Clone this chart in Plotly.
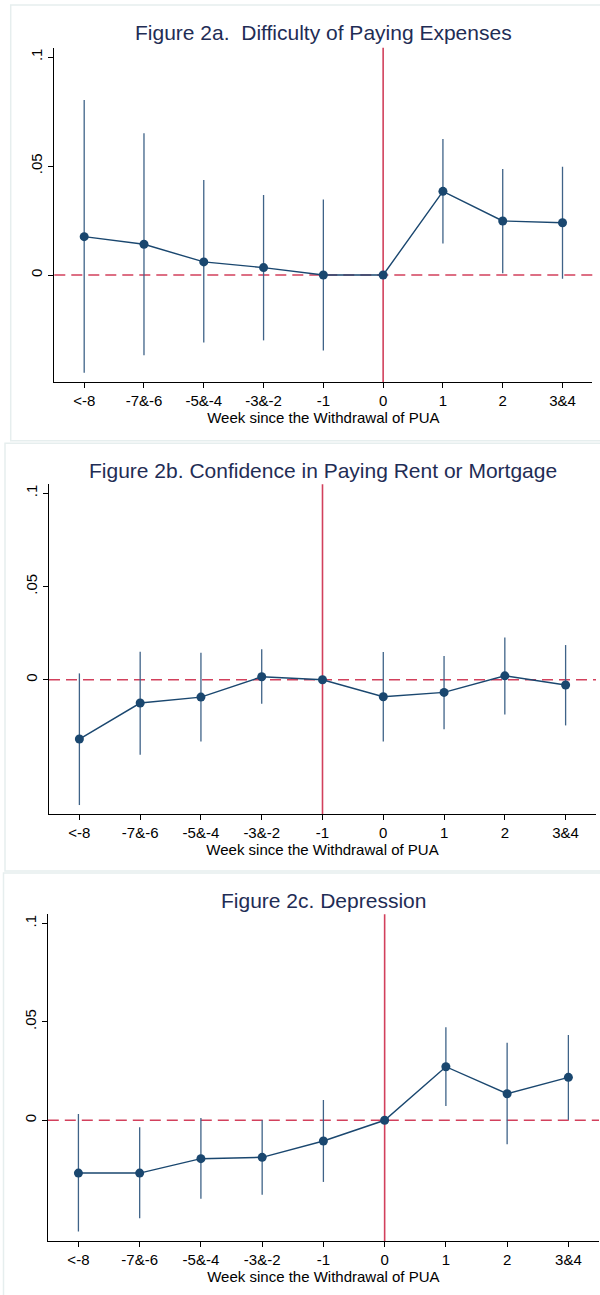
import plotly.graph_objects as go

W, H = 600, 1295

categories = ["<-8", "-7&-6", "-5&-4", "-3&-2", "-1", "0", "1", "2", "3&4"]

# Figure 2a
a_titles = "Figure 2a.  Difficulty of Paying Expenses"
a_est = [0.0176, 0.0141, 0.0060, 0.0034, 0.0000, 0.0000, 0.0384, 0.0248, 0.0240]
a_hi = [0.0803, 0.0650, 0.0436, 0.0367, 0.0347, None, 0.0624, 0.0486, 0.0497]
a_lo = [-0.0448, -0.0368, -0.0310, -0.0300, -0.0346, None, 0.0144, 0.0008, -0.0017]
a_ref = "0"

# Figure 2b
b_titles = "Figure 2b. Confidence in Paying Rent or Mortgage"
b_est = [-0.0318, -0.0125, -0.0093, 0.0016, 0.0000, -0.0091, -0.0068, 0.0021, -0.0028]
b_hi = [0.0034, 0.0150, 0.0145, 0.0163, None, 0.0149, 0.0127, 0.0227, 0.0186]
b_lo = [-0.0672, -0.0402, -0.0331, -0.0129, None, -0.0331, -0.0266, -0.0186, -0.0245]
b_ref = "-1"

# Figure 2c
c_titles = "Figure 2c. Depression"
c_est = [-0.0268, -0.0268, -0.0195, -0.0188, -0.0105, 0.0000, 0.0272, 0.0135, 0.0218]
c_hi = [0.0032, -0.0036, 0.0012, 0.0000, 0.0103, None, 0.0472, 0.0394, 0.0433]
c_lo = [-0.0565, -0.0497, -0.0398, -0.0378, -0.0313, None, 0.0073, -0.0122, 0.0002]
c_ref = "0"

y_tickvals = [0, 0.05, 0.1]
y_ticktext = ["0", ".05", ".1"]
x_title = "Week since the Withdrawal of PUA"

NAVY = "#1a476f"
CI = "#3f6388"
RED = "#d2405c"
TITLE = "#1f2d55"
FONT = "Liberation Sans, Arial, sans-serif"

panels = [
    (a_titles, a_est, a_hi, a_lo, a_ref, (54.3, 592.4, 47.7, 382.0), (-0.0491, 0.1043), 33, (10.7, 440.7, 5)),
    (b_titles, b_est, b_hi, b_lo, b_ref, (49.0, 596.0, 484.3, 814.0), (-0.0720, 0.1048), 470.5, (5.0, 871, 443.3)),
    (c_titles, c_est, c_hi, c_lo, c_ref, (47.8, 599.0, 914.3, 1241.0), (-0.0613, 0.1046), 900.5, (3.5, 1300, 873)),
]

fig = go.Figure()
shapes = []
annotations = []

def py(p):
    return 1 - p / H

for i, (title, est, hi, lo, ref, box, yr, ty, border) in enumerate(panels):
    n = "" if i == 0 else str(i + 1)
    xa, ya = "x" + n, "y" + n
    x0, x1, yt, yb = box
    plus = [(h - e) if h is not None else 0 for h, e in zip(hi, est)]
    minus = [(e - l) if l is not None else 0 for l, e in zip(lo, est)]
    fig.add_trace(go.Scatter(
        x=categories, y=est, xaxis=xa, yaxis=ya, mode="lines+markers",
        line=dict(color=NAVY, width=1.4),
        marker=dict(color=NAVY, size=9),
        error_y=dict(type="data", symmetric=False, array=plus, arrayminus=minus,
                     color=CI, thickness=1.3, width=0),
        showlegend=False, hoverinfo="skip",
    ))
    fig.update_layout(**{
        ("xaxis" + n): dict(
            domain=[x0 / W, x1 / W], anchor=ya, type="category",
            categoryorder="array", categoryarray=categories,
            range=[-0.5, 8.5], showgrid=False, zeroline=False,
            showline=True, linecolor="#000000", linewidth=1,
            ticks="outside", ticklen=5, tickcolor="#000000", tickwidth=1,
            tickfont=dict(family=FONT, size=15, color="#000000"),
            title=dict(text=x_title, standoff=0,
                       font=dict(family=FONT, size=15, color="#000000")),
            fixedrange=True,
        ),
        ("yaxis" + n): dict(
            domain=[py(yb), py(yt)], anchor=xa, range=list(yr),
            tickvals=y_tickvals, ticktext=y_ticktext, tickangle=-90,
            showgrid=False, zeroline=False,
            showline=True, linecolor="#000000", linewidth=1,
            ticks="outside", ticklen=5, tickcolor="#000000", tickwidth=1,
            tickfont=dict(family=FONT, size=15, color="#000000"),
            fixedrange=True,
        ),
    })
    ref_idx = categories.index(ref)
    shapes.append(dict(type="line", xref=xa + " domain", yref=ya, x0=0, x1=1, y0=0, y1=0,
                       line=dict(color=RED, width=1.6, dash="11px,6px"), layer="below"))
    shapes.append(dict(type="line", xref=xa, yref=ya + " domain", x0=ref_idx, x1=ref_idx, y0=0, y1=1,
                       line=dict(color=RED, width=1.6), layer="below"))
    bx, bbottom, btop = border
    shapes.append(dict(type="rect", xref="paper", yref="paper",
                       x0=bx / W, x1=1.02, y0=py(bbottom), y1=py(btop),
                       line=dict(color="#e6eeee", width=1.5), layer="below"))
    annotations.append(dict(text=title, xref="paper", yref="paper",
                            x=(x0 + x1) / 2 / W, y=py(ty), xanchor="center", yanchor="middle",
                            showarrow=False, font=dict(family=FONT, size=21, color=TITLE)))

fig.update_layout(
    width=W, height=H, margin=dict(l=0, r=0, t=0, b=0),
    paper_bgcolor="white", plot_bgcolor="white",
    shapes=shapes, annotations=annotations,
)

fig.write_html("out.html", config={"displayModeBar": False},
               post_script="document.body.style.margin='0px';document.body.style.overflow='hidden';")
